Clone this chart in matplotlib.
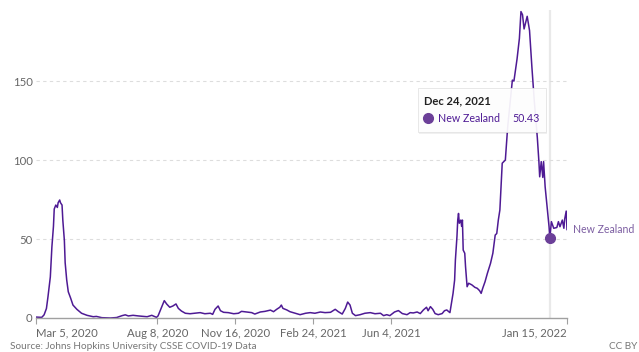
import matplotlib
matplotlib.use("Agg")
import matplotlib.pyplot as plt
import pandas as pd
from matplotlib.lines import Line2D
from matplotlib.patches import FancyBboxPatch

plt.rcParams["font.family"] = ["Lato", "DejaVu Sans"]

# daily new confirmed cases (rolling avg)
start = pd.Timestamp("2020-03-05")
days = [0, 8, 11, 14, 16, 19, 21, 23, 24, 26,
        28, 29, 31, 32, 34, 35, 37, 38, 40, 42,
        45, 48, 53, 59, 66, 74, 78, 85, 96, 104,
        111, 115, 119, 125, 132, 143, 149, 155, 157, 161,
        165, 168, 172, 176, 180, 183, 187, 192, 198, 204,
        211, 217, 224, 227, 230, 234, 237, 241, 247, 254,
        260, 264, 271, 277, 281, 288, 294, 301, 305, 309,
        313, 315, 317, 322, 326, 333, 339, 346, 352, 358,
        365, 371, 378, 384, 388, 393, 397, 400, 403, 406,
        410, 416, 422, 429, 435, 442, 446, 450, 454, 460,
        465, 470, 476, 480, 484, 489, 493, 497, 501, 503,
        506, 509, 512, 516, 521, 524, 527, 529, 531, 533,
        535, 537, 538, 540, 541, 542, 543, 545, 546, 547,
        548, 550, 551, 553, 555, 559, 563, 566, 569, 571,
        573, 576, 579, 583, 586, 589, 591, 593, 595, 598,
        602, 605, 611, 613, 617, 620, 622, 624, 626, 630,
        633, 636, 639, 643, 645, 646, 648, 650, 651, 653,
        656, 658, 659, 661, 664, 668, 670, 672, 675, 677,
        678, 680, 681]
cases = [0.6, 0.4, 2, 6, 13.5, 26, 45, 58, 69, 71.5,
         70, 73, 74.7, 73, 71.5, 62, 49, 35, 24, 16.6,
         12.6, 8.2, 5.5, 3, 1.7, 0.8, 1, 0.2, 0, 0.3,
         1.5, 2, 1.3, 1.7, 1.3, 0.8, 1.7, 0.4, 1.3, 6.1,
         11, 8.9, 6.8, 7.6, 8.9, 6.1, 4.4, 3, 2.7, 3,
         3.4, 2.7, 3, 2.3, 5.5, 7.6, 4.6, 3.6, 3.4, 2.7,
         3, 4.2, 3.8, 3.4, 2.5, 3.8, 4.2, 5, 4, 5.5,
         6.8, 8.2, 6.1, 5.1, 4, 3, 2.1, 3, 3.4, 3,
         3.8, 3.4, 3.6, 5.5, 4, 2.5, 6.1, 10.1, 8.2, 3,
         1.5, 2.1, 3, 3.4, 2.7, 3, 1.5, 2.1, 1.5, 3.8,
         4.7, 2.8, 2.1, 3.4, 3.2, 3.8, 2.8, 5.1, 6.8, 4.6,
         7.2, 5.5, 2.8, 2.1, 2.8, 4.6, 5.1, 4.2, 3.4, 9.3,
         15.6, 24, 36.7, 51.5, 62, 66.2, 60, 62, 58, 62,
         43, 41, 32.5, 19.8, 22, 21, 19.4, 18.8, 17.3, 15.6,
         18.8, 23, 28.3, 34.6, 41, 52.5, 53.5, 62, 68.4, 98,
         100, 121, 150.6, 150, 164, 177, 194, 192, 183, 191,
         182, 159, 138, 114, 99, 89.4, 99, 89, 99, 83,
         68, 57.8, 50.43, 61, 56.8, 57.3, 61, 57.8, 62, 56.8,
         62.5, 67.7, 56]

country = "New Zealand"
tick_dates = ["2020-03-05", "2020-08-08", "2020-11-16", "2021-02-24", "2021-06-04", "2022-01-15"]
tick_labels = ["Mar 5, 2020", "Aug 8, 2020", "Nov 16, 2020", "Feb 24, 2021", "Jun 4, 2021", "Jan 15, 2022"]
y_ticks = [0, 50, 100, 150]
hover_date = pd.Timestamp("2021-12-24")
hover_value = 50.43
source = "Source: Johns Hopkins University CSSE COVID-19 Data"
licence = "CC BY"

dates = [start + pd.Timedelta(days=d) for d in days]
line_c = "#4e1a94"
dot_c = "#6b3f98"

W, H = 639, 352
fig = plt.figure(figsize=(W / 100, H / 100), dpi=100)
ax = fig.add_axes([35.5 / W, 34 / H, 531.5 / W, 308 / H])


def px(x, y):
    return x / W, 1 - y / H


ax.axvline(hover_date, color="#e9e9e9", lw=1.6, zorder=0)
ax.plot(dates, cases, color=line_c, lw=1.1, zorder=2)
ax.plot([hover_date], [hover_value], "o", ms=7, color=dot_c, zorder=3, clip_on=False)
ax.annotate(country, xy=(dates[-1], cases[-1]), xytext=(4, 0), textcoords="offset points",
            va="center", ha="left", fontsize=7.6, color="#7d5fa2", annotation_clip=False)

ax.set_xlim(start, pd.Timestamp(tick_dates[-1]))
ax.set_ylim(0, 195)
ax.set_xticks([pd.Timestamp(d) for d in tick_dates])
ax.set_xticklabels(tick_labels)
ax.set_yticks(y_ticks)
ax.set_yticklabels([str(v) for v in y_ticks])
labels = ax.get_xticklabels()
labels[0].set_ha("left")
labels[-1].set_ha("right")
ax.tick_params(axis="x", length=4, color="#a0a0a0", labelsize=8.2, labelcolor="#666666", pad=3)
ax.tick_params(axis="y", length=0, labelsize=8.2, labelcolor="#666666", pad=2)
for s in ("top", "right", "left"):
    ax.spines[s].set_visible(False)
ax.spines["bottom"].set_color("#a0a0a0")
ax.spines["bottom"].set_linewidth(1)
for v in y_ticks[1:]:
    ax.axhline(v, color="#dddddd", lw=0.8, ls=(0, (3, 3)), zorder=0)

# tooltip
x0, y0 = px(418, 132)
x1, y1 = px(546, 88)
shadow = FancyBboxPatch((x0 + 1 / W, y0 - 1.5 / H), x1 - x0, y1 - y0, boxstyle="square,pad=0",
                        transform=fig.transFigure, facecolor="#000000", alpha=0.06, edgecolor="none", zorder=4)
box = FancyBboxPatch((x0, y0), x1 - x0, y1 - y0, boxstyle="square,pad=0",
                     transform=fig.transFigure, facecolor="white", alpha=0.93,
                     edgecolor="#e2e2e2", lw=0.6, zorder=5)
fig.add_artist(shadow)
fig.add_artist(box)
fig.text(*px(424, 100.5), f"{hover_date:%b} {hover_date.day}, {hover_date.year}", fontsize=8.0,
         fontweight="bold", color="#222222", va="center", ha="left", zorder=6)
fig.add_artist(Line2D([px(428, 118)[0]], [px(428, 118)[1]], marker="o", ms=7, color=dot_c,
                      transform=fig.transFigure, zorder=6))
fig.text(*px(437.5, 118), country, fontsize=7.7, color="#4e1a94", va="center", ha="left", zorder=6)
fig.text(*px(539.5, 118), f"{hover_value:.2f}", fontsize=7.7, color="#4e1a94", va="center", ha="right", zorder=6)

# footer
fig.text(*px(10, 351), source, fontsize=7.2, color="#777777", va="bottom", ha="left")
fig.text(*px(637, 351), licence, fontsize=7.2, color="#777777", va="bottom", ha="right")

fig.savefig("out.png", dpi=100)
